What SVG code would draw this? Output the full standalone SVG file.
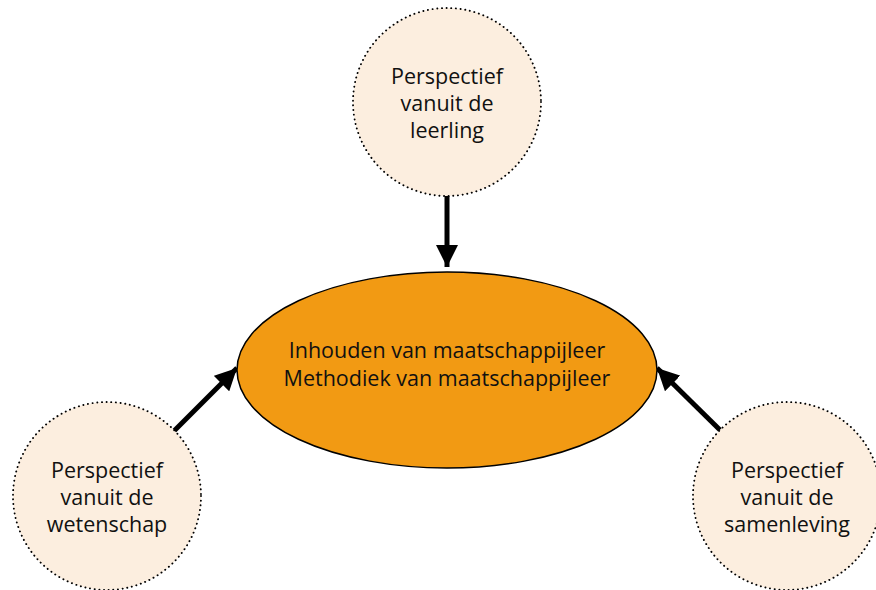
<svg xmlns="http://www.w3.org/2000/svg" width="876" height="590" viewBox="0 0 876 590">
  <style>
    .persp { fill: #FCEEDF; stroke: #000; stroke-width: 1.9; stroke-dasharray: 0.1 4.6; stroke-linecap: round; }
    .core { fill: #F29A13; stroke: #000; stroke-width: 1.5; }
    .label { font-family: "Open Sans", "Noto Sans", sans-serif; font-size: 21.5px; fill: #111; text-anchor: middle; }
    .conn { stroke: #000; stroke-width: 5; fill: none; }
  </style>
  <defs>
    <marker id="head" viewBox="0 0 10 10" refX="10" refY="5" markerWidth="4.4" markerHeight="4.4" markerUnits="strokeWidth" orient="auto">
      <path d="M0,0 L10,5 L0,10 Z" fill="#000"/>
    </marker>
  </defs>

  <rect width="876" height="590" fill="#fff"/>

  <g id="connectors">
    <line class="conn" x1="447" y1="196" x2="447" y2="267" marker-end="url(#head)"/>
    <line class="conn" x1="174" y1="431" x2="237" y2="368" marker-end="url(#head)"/>
    <line class="conn" x1="720" y1="430" x2="657" y2="368" marker-end="url(#head)"/>
  </g>

  <g id="center">
    <ellipse class="core" cx="447" cy="370" rx="210" ry="98"/>
    <text class="label" x="447" y="358">Inhouden van maatschappijleer</text>
    <text class="label" x="447" y="386">Methodiek van maatschappijleer</text>
  </g>

  <g id="leerling">
    <circle class="persp" cx="447" cy="102" r="94"/>
    <text class="label" x="447" y="84">Perspectief</text>
    <text class="label" x="447" y="111">vanuit de</text>
    <text class="label" x="447" y="138">leerling</text>
  </g>

  <g id="wetenschap">
    <circle class="persp" cx="107" cy="496" r="94"/>
    <text class="label" x="107" y="478">Perspectief</text>
    <text class="label" x="107" y="505">vanuit de</text>
    <text class="label" x="107" y="532">wetenschap</text>
  </g>

  <g id="samenleving">
    <circle class="persp" cx="787" cy="496" r="94"/>
    <text class="label" x="787" y="478">Perspectief</text>
    <text class="label" x="787" y="505">vanuit de</text>
    <text class="label" x="787" y="532">samenleving</text>
  </g>
</svg>
